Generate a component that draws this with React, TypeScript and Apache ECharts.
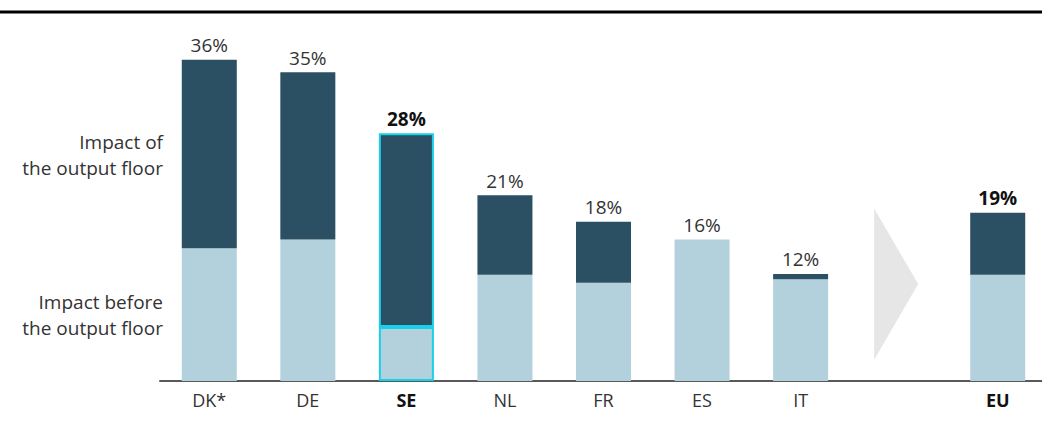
import React, { useEffect, useRef } from "react";
import * as echarts from "echarts";

const categories = ["DK*", "DE", "SE", "NL", "FR", "ES", "IT", "", "EU"];
const beforeFloor = [15.0, 16.0, 6.1, 12.0, 11.1, 16.0, 11.5, null, 12.0];
const outputFloor = [21.3, 18.9, 21.9, 9.0, 6.9, 0, 0.6, null, 7.0];
const totalLabels = ["36%", "35%", "28%", "21%", "18%", "16%", "12%", "", "19%"];
const boldCategories = ["SE", "EU"];
const highlightCategory = "SE";
const arrowCategoryIndex = 7;
const arrowRange = [2.4, 19.5];
const sideLabelsTop = ["Impact of", "the output floor"];
const sideLabelsBottom = ["Impact before", "the output floor"];

const FONT = "'Open Sans', sans-serif";
const DARK = "#2b4f63";
const LIGHT = "#b2d1dc";
const CYAN = "#19d0ec";

export default function App() {
  const ref = useRef<HTMLDivElement>(null);
  useEffect(() => {
    document.body.style.margin = "0";
    document.body.style.overflow = "hidden";
    document.documentElement.style.overflow = "hidden";
    const chart = echarts.init(ref.current!, null, { renderer: "svg" });
    const mkData = (arr: (number | null)[]) =>
      arr.map((v, i) =>
        categories[i] === highlightCategory
          ? { value: v, itemStyle: { borderColor: CYAN, borderWidth: 2 } }
          : v
      );
    chart.setOption({
      animation: false,
      grid: { left: 160, right: 0, top: 27, bottom: 52 },
      xAxis: {
        type: "category",
        data: categories,
        axisTick: { show: false },
        axisLine: { lineStyle: { color: "#595959", width: 2 } },
        axisLabel: {
          margin: 10,
          formatter: (v: string) =>
            boldCategories.includes(v) ? `{b|${v}}` : `{n|${v}}`,
          rich: {
            n: { fontFamily: FONT, fontSize: 18, color: "#333" },
            b: { fontFamily: FONT, fontSize: 18, color: "#111", fontWeight: "bold" },
          },
        },
      },
      yAxis: { type: "value", min: 0, max: 40, show: false, splitLine: { show: false } },
      series: [
        {
          type: "bar",
          name: "Impact before the output floor",
          stack: "t",
          barWidth: 55,
          itemStyle: { color: LIGHT },
          data: mkData(beforeFloor),
        },
        {
          type: "bar",
          name: "Impact of the output floor",
          stack: "t",
          barWidth: 55,
          itemStyle: { color: DARK },
          data: mkData(outputFloor),
          label: {
            show: true,
            position: "top",
            distance: 5,
            formatter: (p: any) => {
              const t = totalLabels[p.dataIndex];
              if (!t) return "";
              return boldCategories.includes(categories[p.dataIndex]) ? `{b|${t}}` : `{n|${t}}`;
            },
            rich: {
              n: { fontFamily: FONT, fontSize: 19, color: "#333" },
              b: { fontFamily: FONT, fontSize: 19, color: "#111", fontWeight: "bold" },
            },
          },
        },
      ],
    });
    const top = chart.convertToPixel({ xAxisIndex: 0, yAxisIndex: 0 }, [arrowCategoryIndex, arrowRange[1]]);
    const bot = chart.convertToPixel({ xAxisIndex: 0, yAxisIndex: 0 }, [arrowCategoryIndex, arrowRange[0]]);
    const cx = top[0] - 3;
    const sideText = (text: string, y: number) => ({
      type: "text",
      x: 163,
      y,
      style: {
        text,
        align: "right",
        verticalAlign: "middle",
        fontFamily: FONT,
        fontSize: 19,
        fill: "#333",
      },
    });
    chart.setOption({
      graphic: [
        {
          type: "line",
          shape: { x1: 0, y1: 12, x2: 1047, y2: 12 },
          style: { stroke: "#000", lineWidth: 3 },
        },
        {
          type: "polygon",
          shape: {
            points: [
              [cx - 22, top[1]],
              [cx + 22, (top[1] + bot[1]) / 2],
              [cx - 22, bot[1]],
            ],
          },
          style: { fill: "#e6e6e6" },
        },
        sideText(sideLabelsTop[0], 142),
        sideText(sideLabelsTop[1], 168),
        sideText(sideLabelsBottom[0], 302),
        sideText(sideLabelsBottom[1], 328),
      ],
    });
    return () => chart.dispose();
  }, []);
  return <div ref={ref} style={{ width: 1047, height: 433 }} />;
}
